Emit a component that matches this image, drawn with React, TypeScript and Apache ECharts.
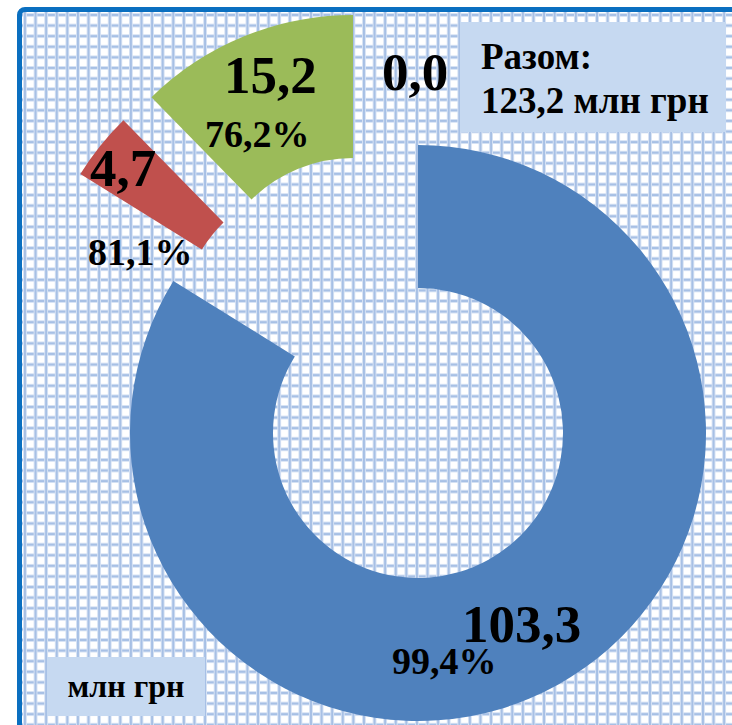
import React, { useEffect, useRef } from "react";
import * as echarts from "echarts";

// ---- data ----
const categories = ["Сегмент 1", "Сегмент 2", "Сегмент 3", "Сегмент 4"];
const values = [103.3, 4.7, 15.2, 0.0];
const percents: (number | null)[] = [99.4, 81.1, 76.2, null];
const unitLabel = "млн грн";
const totalTitle = "Разом:";

// ---- layout / style (not data) ----
const colors = ["#4f81bd", "#c0504d", "#9bbb59", "#8064a2"];
const CX = 418;
const CY = 433;
const R_IN = 145;
const R_OUT = 288;
const explode: [number, number][] = [
  [0, 0],
  [-93, -107],
  [-65, -130],
  [0, 0],
];
const valueLabelPos: [number, number][] = [
  [462, 624],
  [90, 168],
  [224, 75],
  [382, 72],
];
const pctLabelPos: ([number, number] | null)[] = [
  [392, 661],
  [88, 252],
  [205, 134],
  null,
];
const FONT = '"Liberation Serif", "Times New Roman", serif';

const fmt = (v: number) => v.toFixed(1).replace(".", ",");

export default function App() {
  const ref = useRef<HTMLDivElement>(null);

  useEffect(() => {
    if (!ref.current) return;
    const chart = echarts.init(ref.current, undefined, { renderer: "svg" });
    const total = values.reduce((a, b) => a + b, 0);

    const series: any[] = values.map((_, i) => ({
      type: "pie",
      silent: true,
      z: 2,
      center: [CX + explode[i][0], CY + explode[i][1]],
      radius: [R_IN, R_OUT],
      startAngle: 90,
      clockwise: true,
      avoidLabelOverlap: false,
      minAngle: 0,
      labelLine: { show: false },
      itemStyle: { borderWidth: 0 },
      label: {
        position: "inside",
        rotate: 0,
        formatter: (p: any) => fmt(p.value),
        fontFamily: FONT,
        fontWeight: "bold",
        fontSize: 53,
        color: "#000",
      },
      labelLayout: (params: any) =>
        params.dataIndex === i
          ? {
              x: valueLabelPos[i][0],
              y: valueLabelPos[i][1],
              align: "left",
              verticalAlign: "middle",
            }
          : {},
      data: values.map((v, j) => ({
        name: categories[j],
        value: v,
        itemStyle: { color: j === i ? colors[j] : "rgba(0,0,0,0)" },
        label: { show: j === i },
      })),
    }));

    const textStyle = (text: string, size: number, align = "left") => ({
      text,
      font: `bold ${size}px ${FONT}`,
      fill: "#000",
      align,
      verticalAlign: "middle",
      textAlign: align,
      textVerticalAlign: "middle",
    });

    const graphics: any[] = [];
    percents.forEach((p, i) => {
      const pos = pctLabelPos[i];
      if (p == null || !pos) return;
      graphics.push({
        type: "text",
        x: pos[0],
        y: pos[1],
        z: 100,
        zlevel: 0,
        silent: true,
        style: textStyle(fmt(p) + "%", 38),
      });
    });

    // total box
    graphics.push({
      type: "rect",
      silent: true,
      z: 1,
      shape: { x: 460, y: 22, width: 266, height: 110 },
      style: { fill: "#c6d9f1" },
    });
    graphics.push({
      type: "text",
      x: 481,
      y: 56,
      z: 100,
      silent: true,
      style: textStyle(totalTitle, 37),
    });
    graphics.push({
      type: "text",
      x: 481,
      y: 100,
      z: 100,
      silent: true,
      style: textStyle(`${fmt(total)} ${unitLabel}`, 37),
    });

    // unit box
    graphics.push({
      type: "rect",
      silent: true,
      z: 1,
      shape: { x: 47, y: 657, width: 158, height: 59 },
      style: { fill: "#c6d9f1" },
    });
    graphics.push({
      type: "text",
      x: 126,
      y: 686,
      z: 100,
      silent: true,
      style: textStyle(unitLabel, 32, "center"),
    });

    chart.setOption({
      animation: false,
      backgroundColor: "transparent",
      series,
      graphic: { elements: graphics },
    });

    return () => chart.dispose();
  }, []);

  const grid =
    "linear-gradient(to right, #a7c0e5 0px, #a7c0e5 2px, #d6e2f4 2px, #d6e2f4 3px, rgba(255,255,255,0) 3px, rgba(255,255,255,0) 9.6px, #d6e2f4 9.6px, #d6e2f4 10.6px)," +
    "linear-gradient(to bottom, #a7c0e5 0px, #a7c0e5 2px, #d6e2f4 2px, #d6e2f4 3px, rgba(255,255,255,0) 3px, rgba(255,255,255,0) 9.6px, #d6e2f4 9.6px, #d6e2f4 10.6px)";

  return (
    <div
      style={{
        position: "fixed",
        left: 0,
        top: 0,
        width: 732,
        height: 725,
        overflow: "hidden",
        background: "#ffffff",
      }}
    >
      <div
        style={{
          position: "absolute",
          left: 17,
          top: 7,
          width: 800,
          height: 800,
          border: "5px solid #0a6fc0",
          borderRadius: 8,
          backgroundColor: "#ffffff",
          backgroundImage: grid,
          backgroundSize: "10.6px 10.6px",
          backgroundPosition: "2px 2px",
        }}
      />
      <div
        ref={ref}
        style={{ position: "absolute", left: 0, top: 0, width: 732, height: 725 }}
      />
    </div>
  );
}
